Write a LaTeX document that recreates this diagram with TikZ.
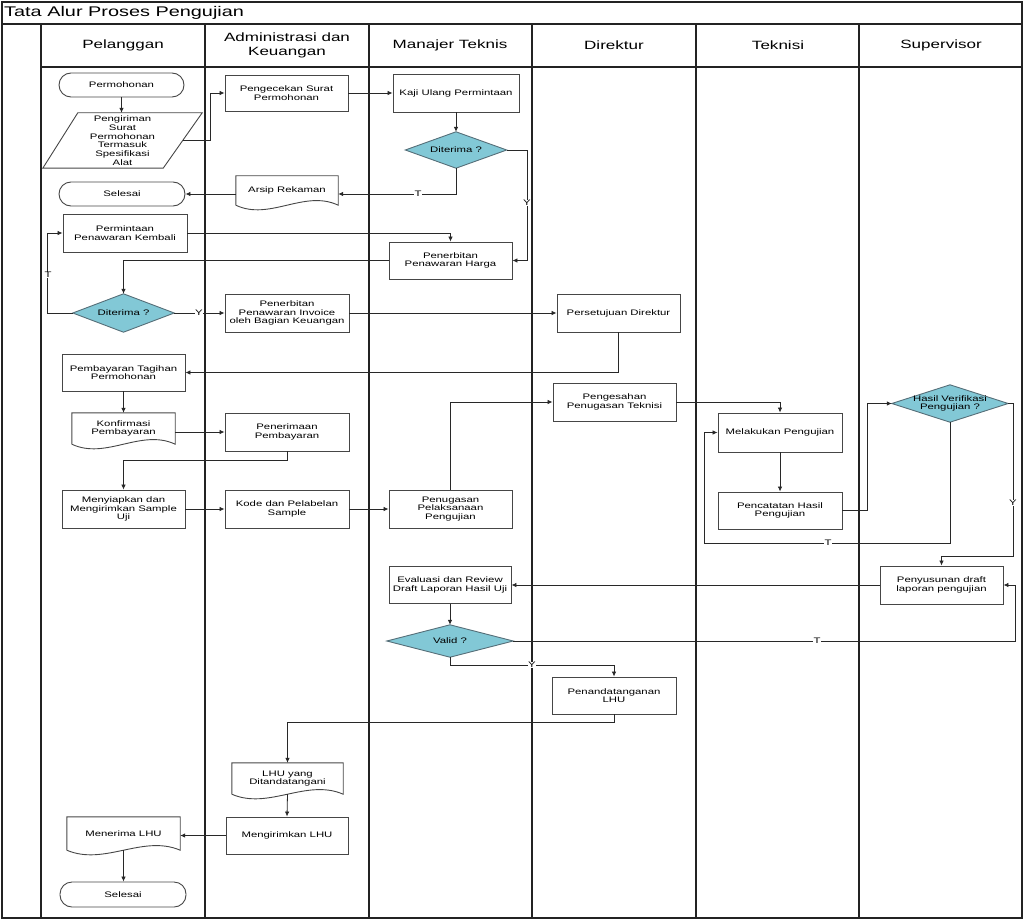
\documentclass[tikz,border=0pt]{standalone}
\usepackage{fontspec}
\setmainfont{Liberation Sans}[FakeStretch=1.42]
\usetikzlibrary{arrows.meta,calc}
\pgfdeclarelayer{bg}
\pgfsetlayers{bg,main}
\newcommand\nfont{\fontsize{8}{8.7}\selectfont}
\newcommand\hfont{\fontsize{12}{14}\selectfont}
\newcommand\tfont{\fontsize{14}{16}\selectfont}
\newcommand\lfont{\fontsize{8}{8}\selectfont}
\definecolor{diamfill}{RGB}{130,200,214}
\definecolor{diamline}{RGB}{85,110,120}
\definecolor{lanecol}{RGB}{35,35,35}
\definecolor{boxcol}{RGB}{70,70,70}
\definecolor{conncol}{RGB}{40,40,40}
\tikzset{
  lane/.style={draw=lanecol, line width=1.2pt},
  sz/.style 2 args={minimum width=#1, minimum height=#2},
  plain/.style={rectangle, inner sep=1pt, align=center, font=\nfont},
  proc/.style={plain, draw=boxcol, line width=0.9pt},
  term/.style={proc, rounded corners=12pt},
  nodeline/.style={draw=boxcol, line width=0.9pt},
  diam/.style={fill=diamfill, draw=diamline, line width=0.9pt},
  conn/.style={draw=conncol, line width=0.8pt, -{Latex[length=5pt,width=4.5pt]}},
  lbl/.style={fill=white, inner sep=0.6pt, font=\lfont},
  hdr/.style={align=center, font=\hfont, inner sep=0pt},
}
\newcommand\docpath[1]{\draw[nodeline] (#1.south west) -- (#1.north west) -- (#1.north east) -- (#1.south east)
  .. controls ($(#1.south east)!0.33!(#1.south west)+(0,-16)$) and ($(#1.south east)!0.67!(#1.south west)+(0,16)$) .. (#1.south west);}
\newcommand\diampath[1]{\begin{pgfonlayer}{bg}\filldraw[diam] (#1.west) -- (#1.north) -- (#1.east) -- (#1.south) -- cycle;\end{pgfonlayer}}
\begin{document}
\begin{tikzpicture}[x=1pt,y=-1pt]
\useasboundingbox (0,0) rectangle (1024,920);
% frame and lanes
\draw[lane] (2,2) rectangle (1022,918);
\draw[lane] (2,24) -- (1022,24);
\draw[lane] (41,67) -- (1022,67);
\foreach \x in {41,205,369,532,696,859} \draw[lane] (\x,24) -- (\x,918);
\node[font=\tfont, anchor=west, inner sep=0pt] (title) at (4,13) {Tata Alur Proses Pengujian};
\node[hdr] (hpel) at (123,45) {Pelanggan};
\node[hdr] (hadm) at (287,45) {Administrasi dan\\Keuangan};
\node[hdr] (hmt) at (450,45) {Manajer Teknis};
\node[hdr] (hdir) at (614,45) {Direktur};
\node[hdr] (htek) at (778,45) {Teknisi};
\node[hdr] (hsup) at (941,45) {Supervisor};
% Pelanggan
\node[term, sz={125}{24}] (perm) at (121.5,85) {Permohonan};
\node[plain, sz={159}{55}] (kirim) at (122.5,140.5) {Pengiriman\\Surat\\Permohonan\\Termasuk\\Spesifikasi\\Alat};
\draw[nodeline] ($(kirim.north west)+(35,0)$) -- (kirim.north east) -- ($(kirim.south east)+(-39,0)$) -- (kirim.south west) -- cycle;
\node[term, sz={126}{24}] (sel1) at (122,194) {Selesai};
\node[proc, sz={124}{38}] (minta) at (125,233) {Permintaan\\Penawaran Kembali};
\node[plain, sz={101}{38}] (dit1) at (123.5,313) {Diterima ?};
\diampath{dit1}
\node[proc, sz={123}{37}] (bayar) at (123.5,372.5) {Pembayaran Tagihan\\Permohonan};
\node[plain, sz={103}{31}] (konf) at (123.5,428.5) {Konfirmasi\\Pembayaran};
\docpath{konf}
\node[proc, sz={123}{38}] (siap) at (123.5,509) {Menyiapkan dan\\Mengirimkan Sample\\Uji};
\node[plain, sz={113}{33}] (terima) at (123.5,833.5) {Menerima LHU};
\docpath{terima}
\node[term, sz={126}{25}] (sel2) at (123,894.5) {Selesai};
% Administrasi
\node[proc, sz={123}{36}] (cek) at (286.5,93) {Pengecekan Surat\\Permohonan};
\node[plain, sz={102}{29}] (arsip) at (287,190.5) {Arsip Rekaman};
\docpath{arsip}
\node[proc, sz={124}{38}] (inv) at (287,313) {Penerbitan\\Penawaran Invoice\\oleh Bagian Keuangan};
\node[proc, sz={124}{38}] (tbayar) at (287,432) {Penerimaan\\Pembayaran};
\node[proc, sz={124}{38}] (kode) at (287,509) {Kode dan Pelabelan\\Sample};
\node[plain, sz={111}{31}] (lhu) at (287.5,778.5) {LHU yang\\Ditandatangani};
\docpath{lhu}
\node[proc, sz={122}{37}] (kirim2) at (287,835.5) {Mengirimkan LHU};
% Manajer Teknis
\node[proc, sz={126}{38}] (kaji) at (456,93) {Kaji Ulang Permintaan};
\node[plain, sz={101}{36}] (dit2) at (456,150) {Diterima ?};
\diampath{dit2}
\node[proc, sz={123}{37}] (harga) at (450.5,260.5) {Penerbitan\\Penawaran Harga};
\node[proc, sz={123}{38}] (tugas) at (450.5,509) {Penugasan\\Pelaksanaan\\Pengujian};
\node[proc, sz={122}{37}] (eval) at (450,585) {Evaluasi dan Review\\Draft Laporan Hasil Uji};
\node[plain, sz={126}{32}] (valid) at (450,641) {Valid ?};
\diampath{valid}
% Direktur
\node[proc, sz={123}{38}] (setuju) at (618.5,313) {Persetujuan Direktur};
\node[proc, sz={123}{38}] (sah) at (614.5,402) {Pengesahan\\Penugasan Teknisi};
\node[proc, sz={124}{37}] (tanda) at (614,695.5) {Penandatanganan\\LHU};
% Teknisi
\node[proc, sz={124}{39}] (laku) at (780,432.5) {Melakukan Pengujian};
\node[proc, sz={124}{37}] (catat) at (780,510.5) {Pencatatan Hasil\\Pengujian};
% Supervisor
\node[plain, sz={116}{37}] (hasil) at (950,403.5) {Hasil Verifikasi\\Pengujian ?};
\diampath{hasil}
\node[proc, sz={123}{38}] (susun) at (941.5,585) {Penyusunan draft\\laporan pengujian};
% connectors
\draw[conn] (perm.south) -- (perm.south |- kirim.north);
\draw[conn] ($(kirim.east)+(-19.5,0)$) -| ($(cek.west)+(-14,0)$) -- (cek.west);
\draw[conn] (cek.east) -- (kaji.west);
\draw[conn] (kaji.south) -- (dit2.north);
\draw[conn] (dit2.south) |- (arsip.east |- sel1.east);
\draw[conn] (arsip.west |- sel1.east) -- (sel1.east);
\draw[conn] (dit2.east) -| ($(harga.east)+(15,0)$) -- (harga.east);
\draw[conn] (minta.east) -| (harga.north);
\draw[conn] (harga.west) -| (dit1.north);
\draw[conn] (dit1.west) -- ++(-25,0) |- (minta.west);
\draw[conn] (dit1.east) -- (inv.west);
\draw[conn] (inv.east) -- (setuju.west);
\draw[conn] (setuju.south) |- (bayar.east);
\draw[conn] (bayar.south) -- (konf.north);
\draw[conn] (konf.east |- tbayar.west) -- (tbayar.west);
\draw[conn] (tbayar.south) -- ++(0,9) -| (siap.north);
\draw[conn] (siap.east) -- (kode.west);
\draw[conn] (kode.east) -- (tugas.west);
\draw[conn] (tugas.north) |- (sah.west);
\draw[conn] (sah.east) -| (laku.north);
\draw[conn] (laku.south) -- (catat.north);
\draw[conn] (catat.east) -| ($(hasil.west)+(-24,0)$) -- (hasil.west);
\draw[conn] (hasil.south) -- ++(0,121.5) -| ($(laku.west)+(-13,0)$) -- (laku.west);
\draw[conn] (hasil.east) -- ++(5,0) |- ($(susun.north)+(0,-9)$) -- (susun.north);
\draw[conn] (susun.west) -- (eval.east);
\draw[conn] (eval.south) -- (valid.north);
\draw[conn] (valid.east) -| ($(susun.east)+(12,0)$) -- (susun.east);
\draw[conn] (valid.south) -- ++(0,8) -| (tanda.north);
\draw[conn] (tanda.south) -- ++(0,8) -| (lhu.north);
\draw[conn] (lhu.south) -- (kirim2.north);
\draw[conn] (kirim2.west) -- (kirim2.west -| terima.east);
\draw[conn] (terima.south) -- (terima.south |- sel2.north);
% labels
\node[lbl] (lT1) at (418,194) {T};
\node[lbl] (lY1) at (527,203) {Y};
\node[lbl] (lT2) at (48,275) {T};
\node[lbl] (lY2) at (199,313) {Y};
\node[lbl] (lT3) at (828,543) {T};
\node[lbl] (lY3) at (1013,503) {Y};
\node[lbl] (lT4) at (817,641) {T};
\node[lbl] (lY4) at (532,665) {Y};
\end{tikzpicture}
\end{document}
